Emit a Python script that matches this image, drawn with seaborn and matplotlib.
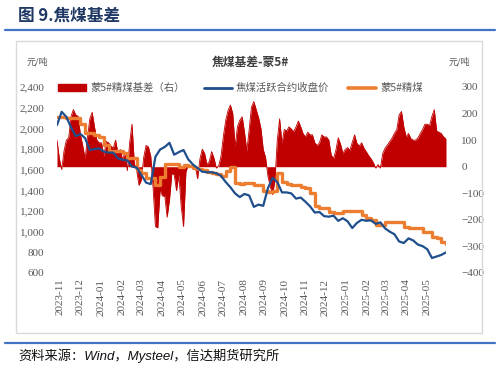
import matplotlib
matplotlib.use("Agg")
import matplotlib.pyplot as plt
import matplotlib.dates as mdates
from matplotlib.lines import Line2D
from matplotlib.patches import Rectangle, Patch
from matplotlib.ticker import FuncFormatter, MultipleLocator
import seaborn as sns
import pandas as pd

# weekly closes (yuan/ton), 2023-10-27 .. 2025-05-30
jm_close = [2032, 2160, 2110, 2010, 1925, 1945, 1905, 1790, 1800, 1805,
            1775, 1765, 1765, 1710, 1695, 1690, 1630, 1620, 1550, 1475,
            1460, 1725, 1795, 1820, 1860, 1745, 1770, 1790, 1700, 1650,
            1615, 1580, 1575, 1575, 1565, 1540, 1480, 1430, 1370, 1335,
            1365, 1350, 1240, 1262, 1250, 1420, 1520, 1480, 1380, 1380,
            1370, 1320, 1330, 1290, 1245, 1185, 1190, 1150, 1145, 1155,
            1105, 1130, 1100, 1035, 1085, 1115, 1105, 1110, 1075, 1090,
            1032, 1000, 975, 905, 890, 935, 915, 875, 860, 830,
            745, 760, 775, 800]

meng5 = [2113, 2110, 2097, 2097, 2097, 2039, 1952, 1952, 1935, 1919,
         1839, 1780, 1780, 1780, 1758, 1710, 1710, 1597, 1565, 1522,
         1522, 1451, 1532, 1655, 1655, 1655, 1630, 1642, 1635, 1615,
         1610, 1595, 1580, 1565, 1555, 1540, 1590, 1625, 1475, 1465,
         1470, 1470, 1455, 1455, 1395, 1385, 1395, 1565, 1480, 1460,
         1455, 1450, 1430, 1425, 1370, 1250, 1226, 1226, 1195, 1177,
         1177, 1200, 1200, 1200, 1200, 1161, 1129, 1115, 1065, 1065,
         1093, 1093, 1093, 1093, 1048, 1032, 1032, 1032, 999, 999,
         951, 940, 902, 877]

# basis, twice a week
basis = [100, 30, -10, 60, 100, 109, 190, 215, 195, 190,
         120, 78, 30, 110, 180, 205, 150, 100, 90, 90,
         40, 95, 90, 78, 70, 100, 50, 65, 25, 55,
         -15, 90, 160, 12, -15, -70, -50, 35, 80, 75,
         40, -80, -225, -230, -85, -110, -110, -190, -125, -25,
         -30, -90, -30, -150, -225, -20, 8, 0, -3, 0,
         -45, 30, 66, 50, 8, 20, 57, 32, -5, 3,
         40, 115, 175, 212, 232, 200, 75, 150, 175, 188,
         130, 59, 140, 225, 245, 215, 185, 145, 65, 35,
         -35, -75, -105, -50, 100, 180, 88, 140, 135, 150,
         142, 132, 150, 172, 150, 125, 112, 130, 120, 120,
         90, 80, 90, 120, 112, 112, 100, 45, 30, 62,
         109, 85, 50, 65, 72, 62, 92, 120, 88, 78,
         90, 70, 56, 42, 30, 15, -5, 8, -5, 50,
         70, 82, 95, 108, 126, 140, 195, 208, 150, 112,
         125, 106, 100, 100, 108, 125, 140, 160, 160, 155,
         190, 215, 135, 130, 125, 112, 105]

week_dates = pd.date_range("2023-10-27", periods=len(jm_close), freq="7D")
basis_dates = pd.date_range("2023-10-27", periods=len(basis), freq="84h")
month_ticks = pd.date_range("2023-11-01", "2025-05-01", freq="MS")

sns.set_theme(style="white")
plt.rcParams["font.family"] = ["Noto Sans CJK SC", "DejaVu Sans"]

BLUE = "#1F4E8C"
ORANGE = "#ED7D31"
RED = "#C00000"
GRAY = "#595959"
num_font = ["Liberation Serif", "Noto Sans CJK SC"]

W, H = 498, 370
fig = plt.figure(figsize=(W / 100, H / 100), dpi=100)
ax = fig.add_axes([57 / W, 1 - 273 / H, (446 - 57) / W, (273 - 87) / H])
ax2 = ax.twinx()

# basis area on the right axis, behind the lines
ax2.fill_between(basis_dates, 0, basis, color=RED, lw=0)
sns.lineplot(x=basis_dates, y=basis, ax=ax2, color=RED, lw=0.6)
ax2.set_ylim(-400, 300)
ax2.yaxis.set_major_locator(MultipleLocator(100))

sns.lineplot(x=week_dates, y=meng5, ax=ax, color=ORANGE, lw=2.4,
             drawstyle="steps-post")
sns.lineplot(x=week_dates, y=jm_close, ax=ax, color=BLUE, lw=1.6)
ax.set_ylim(600, 2400)
ax.yaxis.set_major_locator(MultipleLocator(200))
ax.yaxis.set_major_formatter(FuncFormatter(lambda v, p: f"{int(v):,}"))
ax.set_xlim(week_dates[0], week_dates[-1])
ax.set_xticks(month_ticks)
ax.xaxis.set_major_formatter(mdates.DateFormatter("%Y-%m"))

ax.set_zorder(ax2.get_zorder() + 1)
ax.patch.set_visible(False)

for a in (ax, ax2):
    a.set_xlabel("")
    a.set_ylabel("")
    for s in a.spines.values():
        s.set_visible(False)
    a.tick_params(length=0, labelsize=8, colors=GRAY)
    for lab in a.get_yticklabels() + a.get_xticklabels():
        lab.set_family(num_font)
ax.tick_params(axis="y", pad=9)
ax2.tick_params(axis="y", pad=11)
ax.tick_params(axis="x", pad=4)
for lab in ax.get_xticklabels():
    lab.set_rotation(90)

# frame and header/footer rules
fig.add_artist(Rectangle((16 / W, 1 - 333 / H), (482 - 16) / W, (333 - 41) / H,
                         transform=fig.transFigure, fill=False,
                         ec="#D9D9D9", lw=1))
for yy in (30, 343):
    fig.add_artist(Line2D([5 / W, 495 / W], [1 - yy / H] * 2, color="#4472C4", lw=1.6))

fig.text(18 / W, 1 - 16 / H, "图 9.焦煤基差", fontsize=12, fontweight="bold",
         color="#1F3864", va="center", ha="left")
fig.text(250 / W, 1 - 62 / H, "焦煤基差-蒙5#", fontsize=8.5, fontweight="bold",
         color="#404040", va="center", ha="center")
fig.text(37 / W, 1 - 62 / H, "元/吨", fontsize=6.5, color=GRAY, va="center", ha="center")
fig.text(459 / W, 1 - 62 / H, "元/吨", fontsize=6.5, color=GRAY, va="center", ha="center")
fig.text(18 / W, 1 - 356 / H, "资料来源：Wind，Mysteel，信达期货研究所", fontsize=9.5,
         fontstyle="italic", family=["Liberation Sans", "Noto Sans CJK SC"],
         color="#111111", va="center", ha="left")

handles = [Patch(color=RED),
           Line2D([], [], color=BLUE, lw=2),
           Line2D([], [], color=ORANGE, lw=2.6)]
labels = ["蒙5#精煤基差（右）", "焦煤活跃合约收盘价", "蒙5#精煤"]
leg = fig.legend(handles, labels, loc="center left", bbox_to_anchor=(58 / W, 1 - 88 / H),
                 ncol=3, frameon=False, fontsize=7.5, handlelength=2.7,
                 handleheight=0.55, handletextpad=0.4, columnspacing=1.8,
                 labelcolor=GRAY, borderaxespad=0, borderpad=0)

fig.savefig("out.png", dpi=100)
